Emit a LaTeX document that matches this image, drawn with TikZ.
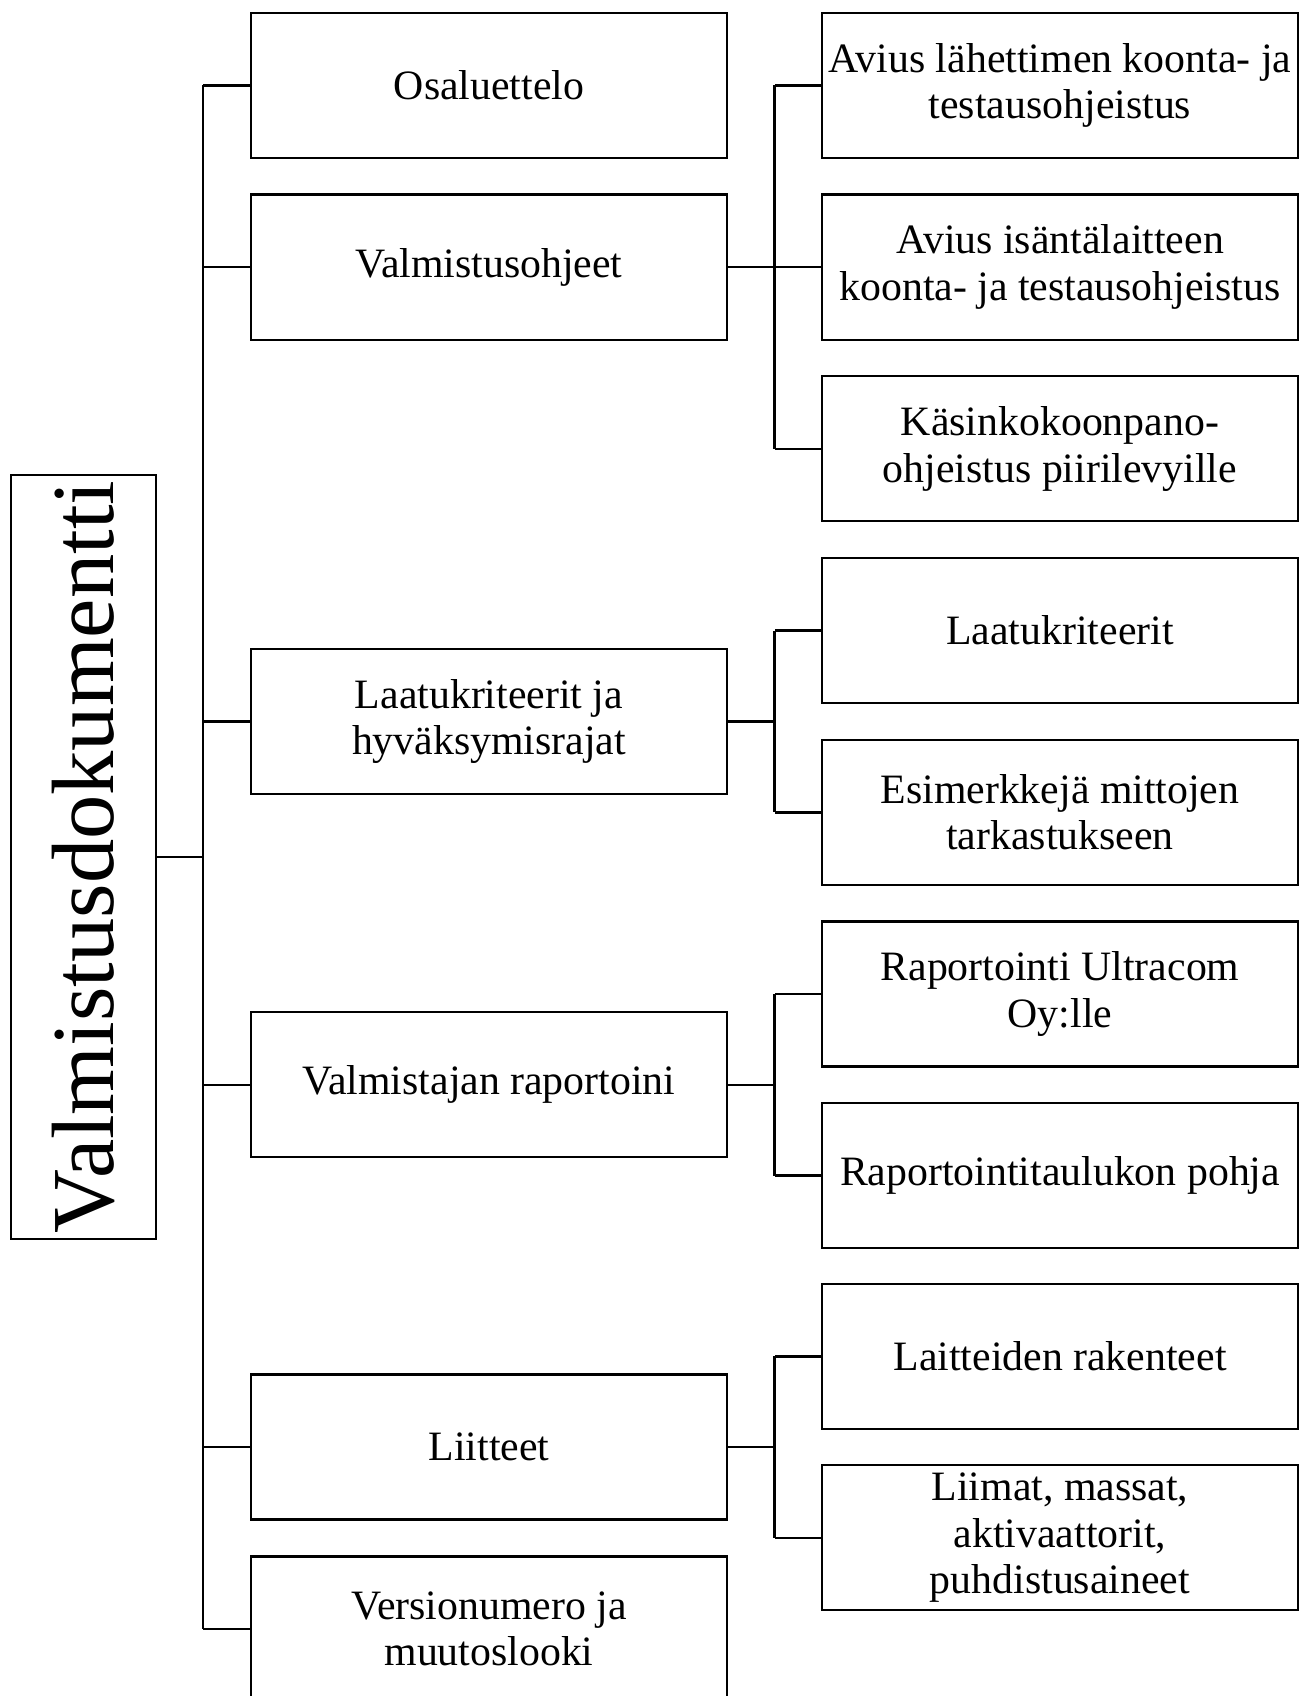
\documentclass[tikz,border=0pt]{standalone}
\usepackage{fontspec}
\setmainfont{Liberation Serif}

\tikzstyle{box} = [rectangle, draw=black, line width=2.2pt, minimum width=476pt, minimum height=145pt, inner sep=0pt, align=center, font=\fontsize{41.8}{46.5}\selectfont]
\tikzstyle{rootbox} = [rectangle, draw=black, line width=2.2pt, rotate=90, minimum width=764pt, minimum height=145pt, inner sep=0pt, font=\fontsize{88.5}{95}\selectfont]
\tikzstyle{wire} = [line width=2.6pt]

\begin{document}
\begin{tikzpicture}[x=1pt,y=-1pt]

    \useasboundingbox (0,0) rectangle (1301,1696);

    % Juuri
    \node[rootbox] (root) at (83.2,857) {Valmistusdokumentti};

    % Paaotsikot
    \node[box] (osa) at (489,85.4) {Osaluettelo};
    \node[box] (valm) at (489,267.1) {Valmistusohjeet};
    \node[box] (laatu) at (489,721.4) {Laatukriteerit ja\\hyväksymisrajat};
    \node[box] (rap) at (489,1084.8) {Valmistajan raportoini};
    \node[box] (liit) at (489,1447) {Liitteet};
    \node[box] (vers) at (489,1629) {Versionumero ja\\muutoslooki};

    % Alaotsikot
    \node[box] (avl) at (1060,85.4) {Avius lähettimen koonta- ja\\testausohjeistus};
    \node[box] (avi) at (1060,267.1) {Avius isäntälaitteen\\koonta- ja testausohjeistus};
    \node[box] (kasin) at (1060,448.8) {Käsinkokoonpano-\\ohjeistus piirilevyille};
    \node[box] (kri) at (1060,630.5) {Laatukriteerit};
    \node[box] (esim) at (1060,812.2) {Esimerkkejä mittojen\\tarkastukseen};
    \node[box] (ultra) at (1060,993.9) {Raportointi Ultracom\\Oy:lle};
    \node[box] (pohja) at (1060,1175.6) {Raportointitaulukon pohja};
    \node[box] (rak) at (1060,1356.2) {Laitteiden rakenteet};
    \node[box] (liim) at (1060,1537.8) {Liimat, massat,\\aktivaattorit,\\puhdistusaineet};

    % Runko
    \coordinate (runko) at (203,0);
    \draw[wire] (root.south) -- (root.south -| runko);
    \draw[wire] (osa.west -| runko) -- (vers.west -| runko);
    \foreach \n in {osa,valm,laatu,rap,liit,vers}
        \draw[wire] (\n.west) -- (\n.west -| runko);

    % Haarat
    \coordinate (haara) at (774.5,0);
    \draw[wire] (valm.east) -- (valm.east -| haara);
    \draw[wire] (avl.west -| haara) -- (kasin.west -| haara);
    \draw[wire] (laatu.east) -- (laatu.east -| haara);
    \draw[wire] (kri.west -| haara) -- (esim.west -| haara);
    \draw[wire] (rap.east) -- (rap.east -| haara);
    \draw[wire] (ultra.west -| haara) -- (pohja.west -| haara);
    \draw[wire] (liit.east) -- (liit.east -| haara);
    \draw[wire] (rak.west -| haara) -- (liim.west -| haara);
    \foreach \n in {avl,avi,kasin,kri,esim,ultra,pohja,rak,liim}
        \draw[wire] (\n.west) -- (\n.west -| haara);

\end{tikzpicture}
\end{document}
